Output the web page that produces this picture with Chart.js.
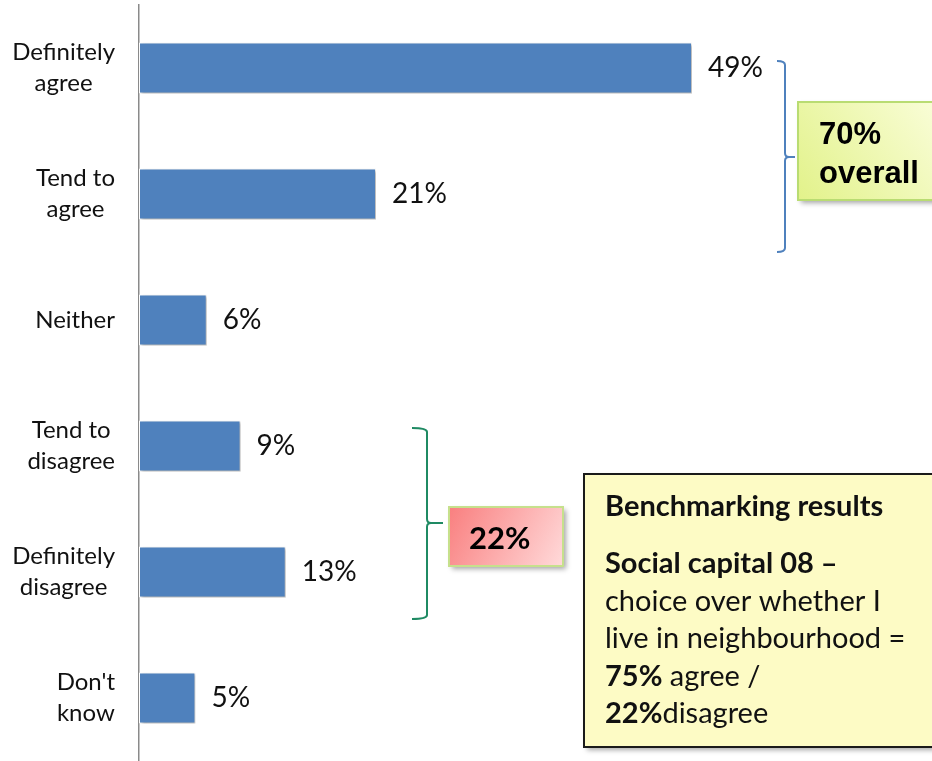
<!DOCTYPE html>
<html>
<head>
<meta charset="utf-8">
<script src="https://cdn.jsdelivr.net/npm/chart.js@4/dist/chart.umd.min.js"></script>
<style>
  html, body { margin: 0; padding: 0; background: #fff; }
</style>
</head>
<body>
<canvas id="chart" width="932" height="761"></canvas>
<script>
// ========================================
// Data
// ========================================
const categories = [
  ['Definitely', 'agree'],
  ['Tend to', 'agree'],
  ['Neither'],
  ['Tend to', 'disagree'],
  ['Definitely', 'disagree'],
  ["Don't", 'know']
];
const percentValues = [49, 21, 6, 9, 13, 5];
const axisMax = 70;

// Callout texts
const agreeTotal = ['70%', 'overall'];
const disagreeTotal = ['22%'];
const benchmarkTitle = 'Benchmarking results';
// each line is a list of [text, bold]
const benchmarkLines = [
  [['Social capital 08 \u2013', true]],
  [['choice over whether I', false]],
  [['live in neighbourhood =', false]],
  [['75%', true], [' agree /', false]],
  [['22%', true], ['disagree', false]]
];

const BAR_BLUE = '#4F81BD';

// ========================================
// Helpers
// ========================================
function drawBracket(ctx, xHook, xLine, xTick, yTop, yMid, yBot, color) {
  const r = 4;
  ctx.save();
  ctx.strokeStyle = color;
  ctx.lineWidth = 2;
  ctx.beginPath();
  ctx.moveTo(xHook, yTop);
  ctx.quadraticCurveTo(xLine, yTop, xLine, yTop + r);
  ctx.lineTo(xLine, yMid - r);
  ctx.quadraticCurveTo(xLine, yMid, xLine + r, yMid);
  ctx.lineTo(xTick, yMid);
  ctx.moveTo(xLine + r, yMid);
  ctx.quadraticCurveTo(xLine, yMid, xLine, yMid + r);
  ctx.lineTo(xLine, yBot - r);
  ctx.quadraticCurveTo(xLine, yBot, xHook, yBot);
  ctx.stroke();
  ctx.restore();
}

function drawBox(ctx, x, y, w, h, fill, stroke, lw) {
  ctx.save();
  ctx.shadowColor = 'rgba(0,0,0,0.35)';
  ctx.shadowBlur = 5;
  ctx.shadowOffsetX = 3;
  ctx.shadowOffsetY = 3;
  ctx.fillStyle = fill;
  ctx.fillRect(x, y, w, h);
  ctx.restore();
  ctx.save();
  ctx.strokeStyle = stroke;
  ctx.lineWidth = lw;
  ctx.strokeRect(x, y, w, h);
  ctx.restore();
}

// ========================================
// Plugins
// ========================================
const barShadow = {
  id: 'barShadow',
  beforeDatasetsDraw(chart) {
    const ctx = chart.ctx;
    ctx.save();
    ctx.shadowColor = 'rgba(0,0,0,0.3)';
    ctx.shadowBlur = 3;
    ctx.shadowOffsetX = 2;
    ctx.shadowOffsetY = 2;
  },
  afterDatasetsDraw(chart) {
    chart.ctx.restore();
  }
};

const valueLabels = {
  id: 'valueLabels',
  afterDatasetsDraw(chart) {
    const ctx = chart.ctx;
    const meta = chart.getDatasetMeta(0);
    ctx.save();
    ctx.font = '28px Lato';
    ctx.fillStyle = '#111';
    ctx.textBaseline = 'middle';
    ctx.textAlign = 'left';
    meta.data.forEach((bar, i) => {
      ctx.fillText(percentValues[i] + '%', bar.x + 16, bar.y);
    });
    ctx.restore();
  }
};

// category labels: block right aligned, lines centred inside the block
const categoryLabels = {
  id: 'categoryLabels',
  afterDraw(chart) {
    const ctx = chart.ctx;
    const yScale = chart.scales.y;
    const right = 115;
    const lineH = 31;
    ctx.save();
    ctx.font = '24px Lato';
    ctx.fillStyle = '#111';
    ctx.textBaseline = 'middle';
    ctx.textAlign = 'center';
    categories.forEach((lines, i) => {
      const yc = yScale.getPixelForTick(i);
      const maxW = Math.max(...lines.map(l => ctx.measureText(l).width));
      const cx = right - maxW / 2;
      const y0 = yc - (lines.length - 1) * lineH / 2;
      lines.forEach((l, j) => ctx.fillText(l, cx, y0 + j * lineH));
    });
    ctx.restore();
  }
};

const callouts = {
  id: 'callouts',
  afterDraw(chart) {
    const ctx = chart.ctx;

    // agree bracket + green box
    drawBracket(ctx, 777, 785, 795, 61, 157, 252, BAR_BLUE);
    let g = ctx.createLinearGradient(798, 200, 932, 102);
    g.addColorStop(0, '#e2f28a');
    g.addColorStop(1, '#f9fdd6');
    drawBox(ctx, 798, 102, 150, 98, g, '#b9dc72', 2);
    ctx.save();
    ctx.font = 'bold 31px "Liberation Sans"';
    ctx.fillStyle = '#000';
    ctx.textBaseline = 'alphabetic';
    ctx.fillText(agreeTotal[0], 819, 144);
    ctx.fillText(agreeTotal[1], 819, 183);
    ctx.restore();

    // disagree bracket + red box
    drawBracket(ctx, 412, 427, 443, 428, 523, 619, '#1f8a63');
    g = ctx.createLinearGradient(449, 507, 563, 566);
    g.addColorStop(0, '#f97f7f');
    g.addColorStop(1, '#ffdada');
    drawBox(ctx, 449, 507, 114, 59, g, '#c6e08c', 2);
    ctx.save();
    ctx.font = 'bold 31px Lato';
    ctx.fillStyle = '#000';
    ctx.fillText(disagreeTotal[0], 469, 549);
    ctx.restore();

    // benchmarking box
    drawBox(ctx, 584, 474, 370, 273, '#fdfbc5', '#1a1a1a', 2);
    ctx.save();
    ctx.fillStyle = '#111';
    ctx.font = 'bold 29px Lato';
    ctx.fillText(benchmarkTitle, 605, 516);
    benchmarkLines.forEach((segs, i) => {
      let x = 605;
      const y = 573 + i * 37.5;
      segs.forEach(([text, bold]) => {
        ctx.font = (bold ? 'bold ' : '') + '29px Lato';
        ctx.fillText(text, x, y);
        x += ctx.measureText(text).width;
      });
    });
    ctx.restore();
  }
};

// ========================================
// Chart
// ========================================
new Chart(document.getElementById('chart'), {
  type: 'bar',
  data: {
    labels: categories,
    datasets: [{
      data: percentValues,
      backgroundColor: BAR_BLUE,
      borderColor: '#ffffff',
      borderWidth: 1,
      borderSkipped: false,
      barPercentage: 0.405,
      categoryPercentage: 1
    }]
  },
  options: {
    indexAxis: 'y',
    responsive: false,
    animation: false,
    devicePixelRatio: 1,
    layout: { padding: { top: 5, right: 3, bottom: 0, left: 0 } },
    plugins: {
      legend: { display: false },
      tooltip: { enabled: false }
    },
    scales: {
      x: { display: false, min: 0, max: axisMax },
      y: {
        grid: { display: false, drawTicks: false },
        border: { display: true, color: '#8a8a8a', width: 1.5 },
        ticks: { display: false },
        afterFit(scale) { scale.width = 139; }
      }
    }
  },
  plugins: [barShadow, valueLabels, categoryLabels, callouts]
});
</script>
</body>
</html>
